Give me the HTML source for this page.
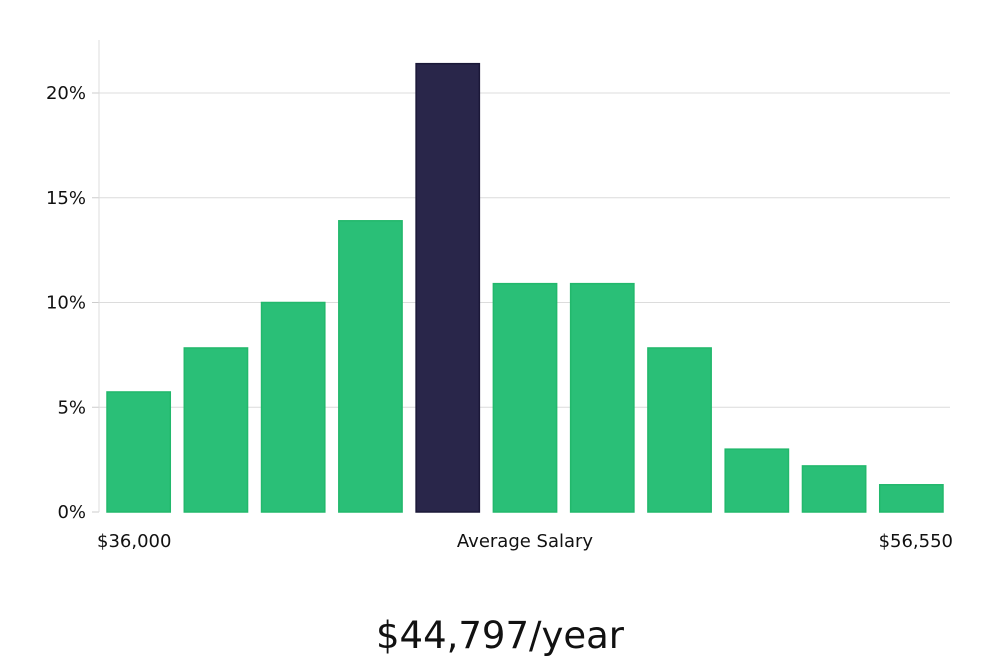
<!DOCTYPE html>
<html><head><meta charset="utf-8"><style>
body{margin:0;background:#fff;width:1000px;height:660px;overflow:hidden;font-family:"Liberation Sans","DejaVu Sans",sans-serif}
svg text{font-family:"DejaVu Sans","Liberation Sans",sans-serif}
</style></head><body>
<svg id="chart" width="1000" height="660" xmlns="http://www.w3.org/2000/svg"></svg>
<script>
const categories=["b1","b2","b3","b4","b5","b6","b7","b8","b9","b10","b11"];
const values=[5.73,7.83,10.0,13.9,21.4,10.9,10.9,7.83,3.0,2.2,1.3];
const highlight=[false,false,false,false,true,false,false,false,false,false,false];
const yTicks=[0,5,10,15,20];
const yTickLabels=["0%","5%","10%","15%","20%"];
const xLabels=["$36,000","Average Salary","$56,550"];
const title="$44,797/year";
const NS="http://www.w3.org/2000/svg";
const svg=document.getElementById('chart');
const L=100,R=950,B=512,pxPer=(512-93)/20;
const y=v=>B-v*pxPer;
const band=(R-L)/categories.length;
const x=i=>L+i*band;
function mk(t,a,p){const e=document.createElementNS(NS,t);for(const k in a)e.setAttribute(k,a[k]);(p||svg).appendChild(e);return e;}
yTicks.forEach((t,i)=>{
  if(t>0){const g=mk('line',{x1:L-1,x2:R,y1:y(t),y2:y(t),stroke:'#dcdcdc','stroke-width':1});
  
  }
  const tk=mk('line',{x1:L-8,x2:L-1,y1:y(t),y2:y(t),stroke:'#ccc'});
  
  
  const tx=mk('text',{x:L-14,y:y(t)+6,'text-anchor':'end','font-size':18,fill:'#111'});
  tx.textContent=yTickLabels[i];
  
  
});
const ax=mk('line',{x1:L-1,x2:L-1,y1:40,y2:B,stroke:'#dcdcdc'});


categories.forEach((c,i)=>{
  const hi=highlight[i];
  const r=mk('rect',{x:x(i)+7,y:y(values[i]),width:band-14,height:B-y(values[i]),fill:hi?'#29264a':'#2abf77',stroke:hi?'#1b1838':'#22b86c','stroke-width':1.5});
  
  
});
const xl=[[97,'start'],[525,'middle'],[953,'end']];
xLabels.forEach((t,i)=>{
  const e=mk('text',{x:xl[i][0],y:547,'text-anchor':xl[i][1],'font-size':18,fill:'#111'});
  e.textContent=t;
  
  
});
const tt=mk('text',{x:500,y:648,'text-anchor':'middle','font-size':37,fill:'#111','font-family':'Liberation Sans Narrow, Liberation Sans, sans-serif'});
tt.textContent=title;


</script>
</body></html>
